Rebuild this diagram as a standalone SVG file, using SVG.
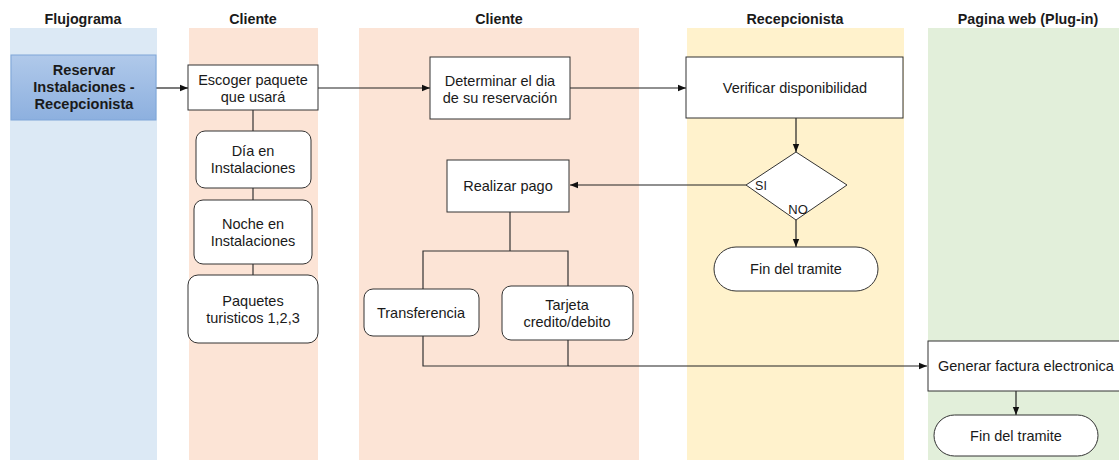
<svg xmlns="http://www.w3.org/2000/svg" width="1119" height="461" viewBox="0 0 1119 461">
  <defs>
    <linearGradient id="blueFill" x1="0" y1="0" x2="0" y2="1">
      <stop offset="0" stop-color="#b0c9ea"/>
      <stop offset="1" stop-color="#8db0df"/>
    </linearGradient>
    <marker id="arrow" viewBox="0 0 10 10" refX="10" refY="5" markerWidth="8" markerHeight="8" markerUnits="userSpaceOnUse" orient="auto">
      <path d="M0,1 L10,5 L0,9 Z" fill="#111"/>
    </marker>
  </defs>
  <style>
    .hdr { font-family: "Liberation Sans", Arial, sans-serif; font-size: 14.3px; font-weight: bold; fill: #1a1a1a; text-anchor: middle; }
    .lbl { font-family: "Liberation Sans", Arial, sans-serif; font-size: 14.5px; fill: #1a1a1a; text-anchor: middle; }
    .bold { font-weight: bold; font-size: 14.6px; }
    .box { fill: #ffffff; stroke: #333333; stroke-width: 1; }
    .wire { fill: none; stroke: #333333; stroke-width: 1.2; }
    .flow { fill: none; stroke: #222222; stroke-width: 1.2; marker-end: url(#arrow); }
  </style>

  <rect width="1119" height="461" fill="#ffffff"/>

  <!-- swimlanes -->
  <g id="lanes">
    <rect x="10" y="28" width="147" height="432" fill="#dce9f5"/>
    <rect x="189" y="28" width="129" height="432" fill="#fce4d6"/>
    <rect x="359" y="28" width="280" height="432" fill="#fce4d6"/>
    <rect x="687" y="28" width="217" height="432" fill="#fff2cc"/>
    <rect x="928" y="28" width="191" height="432" fill="#e2efda"/>
  </g>

  <g id="headers">
    <text class="hdr" x="83" y="24">Flujograma</text>
    <text class="hdr" x="253" y="24">Cliente</text>
    <text class="hdr" x="499" y="24">Cliente</text>
    <text class="hdr" x="795" y="24">Recepcionista</text>
    <text class="hdr" x="1028" y="24">Pagina web (Plug-in)</text>
  </g>

  <!-- connectors -->
  <g id="connectors">
    <line class="flow" x1="156" y1="88" x2="188" y2="88"/>
    <line class="flow" x1="318" y1="88" x2="430" y2="88"/>
    <line class="flow" x1="570" y1="88" x2="686" y2="88"/>
    <line class="wire" x1="253" y1="110" x2="253" y2="275"/>
    <line class="flow" x1="796" y1="118" x2="796" y2="152"/>
    <line class="flow" x1="746" y1="185" x2="570" y2="185"/>
    <line class="flow" x1="796" y1="220" x2="796" y2="247"/>
    <polyline class="wire" points="510,212 510,251"/>
    <polyline class="wire" points="423,289 423,251 568,251 568,286"/>
    <polyline class="wire" points="423,336 423,366 568,366"/>
    <line class="wire" x1="568" y1="340" x2="568" y2="366"/>
    <line class="flow" x1="568" y1="366" x2="927" y2="366"/>
    <line class="flow" x1="1016" y1="391" x2="1016" y2="415"/>
  </g>

  <!-- nodes -->
  <g id="reservar">
    <rect x="11" y="55" width="145" height="65" fill="url(#blueFill)" stroke="#7fa6d8" stroke-width="1"/>
    <text class="lbl bold" x="84" y="75">Reservar</text>
    <text class="lbl bold" x="84" y="92">Instalaciones -</text>
    <text class="lbl bold" x="84" y="109">Recepcionista</text>
  </g>

  <g id="escoger">
    <rect class="box" x="188" y="65" width="130" height="45"/>
    <text class="lbl" x="253" y="85">Escoger paquete</text>
    <text class="lbl" x="253" y="102">que usará</text>
  </g>

  <g id="dia">
    <rect class="box" x="196" y="131" width="115" height="57" rx="9"/>
    <text class="lbl" x="253" y="156">Día en</text>
    <text class="lbl" x="253" y="173">Instalaciones</text>
  </g>

  <g id="noche">
    <rect class="box" x="194" y="200" width="118" height="64" rx="9"/>
    <text class="lbl" x="253" y="229">Noche en</text>
    <text class="lbl" x="253" y="246">Instalaciones</text>
  </g>

  <g id="paquetes">
    <rect class="box" x="188" y="275" width="130" height="68" rx="10"/>
    <text class="lbl" x="253" y="306">Paquetes</text>
    <text class="lbl" x="253" y="323">turisticos 1,2,3</text>
  </g>

  <g id="determinar">
    <rect class="box" x="430" y="57" width="140" height="62"/>
    <text class="lbl" x="500" y="86">Determinar el dia</text>
    <text class="lbl" x="500" y="103">de su reservación</text>
  </g>

  <g id="verificar">
    <rect class="box" x="686" y="57" width="217" height="61"/>
    <text class="lbl" x="795" y="93">Verificar disponibilidad</text>
  </g>

  <g id="decision">
    <polygon class="box" points="796,152 847,185 796,220 746,185"/>
    <text class="lbl" x="761" y="190" style="font-size:12.5px">SI</text>
    <text class="lbl" x="798" y="214" style="font-size:13px">NO</text>
  </g>

  <g id="fin-recepcion">
    <rect class="box" x="714" y="247" width="164" height="44" rx="22"/>
    <text class="lbl" x="796" y="274">Fin del tramite</text>
  </g>

  <g id="pago">
    <rect class="box" x="447" y="160" width="122" height="52"/>
    <text class="lbl" x="508" y="191">Realizar pago</text>
  </g>

  <g id="transferencia">
    <rect class="box" x="364" y="289" width="115" height="47" rx="9"/>
    <text class="lbl" x="421" y="318">Transferencia</text>
  </g>

  <g id="tarjeta">
    <rect class="box" x="502" y="286" width="131" height="54" rx="9"/>
    <text class="lbl" x="567" y="310">Tarjeta</text>
    <text class="lbl" x="567" y="327">credito/debito</text>
  </g>

  <g id="factura">
    <rect class="box" x="928" y="341" width="200" height="50"/>
    <text class="lbl" x="938" y="371" style="text-anchor:start">Generar factura electronica</text>
  </g>

  <g id="fin-web">
    <rect class="box" x="934" y="415" width="164" height="41" rx="20.5"/>
    <text class="lbl" x="1016" y="441">Fin del tramite</text>
  </g>
</svg>
